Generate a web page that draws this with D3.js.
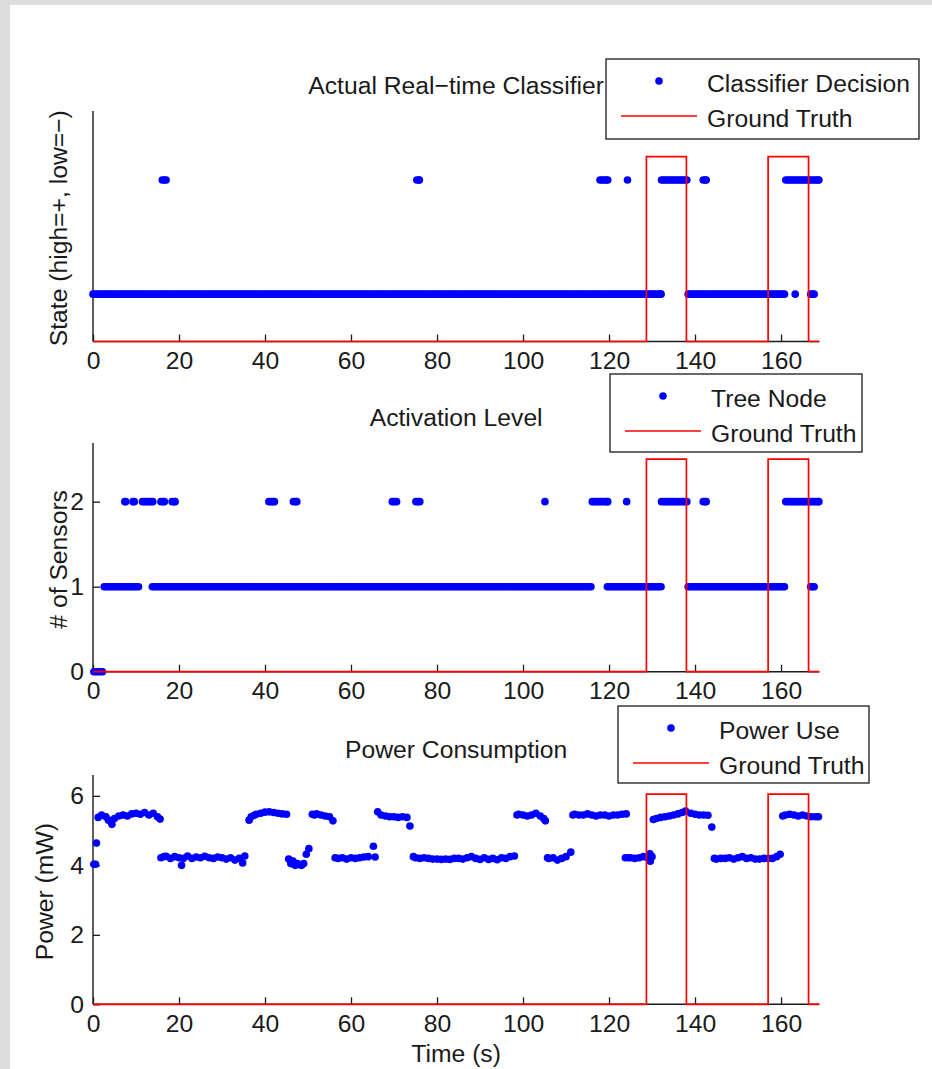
<!DOCTYPE html>
<html>
<head>
<meta charset="utf-8">
<script src="https://cdn.jsdelivr.net/npm/d3@7"></script>
<style>
  body { margin: 0; background: #dcdcdc; }
  svg { display: block; }
  text { font-family: "Liberation Sans", Arial, Helvetica, sans-serif; fill: #1a1a1a; }
</style>
</head>
<body>
<svg id="fig" width="932" height="1069"></svg>
<script>
// ---- time base ----
const timeMax = 168.9;
const timeTicks = [0, 20, 40, 60, 80, 100, 120, 140, 160];
const sampleStep = 0.5; // classifier outputs at 2 Hz

// ---- ground truth events [start, end] (s) ----
const truthEvents = [[128.7, 138.0], [157.0, 166.4]];

// ---- classifier decision: runs of constant state [start, end] (s) ----
const decisionLowRuns  = [[0.0, 132.1], [138.4, 160.8], [163.3, 163.3], [166.9, 167.7]];
const decisionHighRuns = [[16.1, 17.0], [75.3, 75.9], [117.9, 119.7], [124.3, 124.3],
                          [132.2, 138.1], [141.9, 142.6], [161.1, 168.8]];

// ---- tree node activation: runs per number of active sensors ----
const nodeZeroRuns = [[0.2, 2.2]];
const nodeOneRuns  = [[2.6, 10.6], [13.8, 115.8], [119.6, 132.1], [138.4, 160.8], [166.9, 167.7]];
const nodeTwoRuns  = [[7.4, 7.6], [9.3, 9.6], [11.5, 13.9], [15.8, 16.6], [18.4, 19.1],
                      [40.9, 42.2], [46.6, 47.4], [69.6, 70.6], [75.1, 76.0], [105.1, 105.1],
                      [116.1, 119.7], [124.1, 124.1], [132.2, 138.1], [141.9, 142.6], [161.1, 168.8]];

// ---- measured power [time (s), mW] ----
const powerSamples = [
  [0.2, 4.03], [0.6, 4.03], [0.8, 4.64],
  [1.2, 5.38], [2, 5.45], [3, 5.40], [3.6, 5.30], [4.4, 5.18], [5, 5.35], [6, 5.42], [7, 5.45],
  [8, 5.42], [9, 5.48], [10, 5.50], [11, 5.47], [12, 5.52], [13, 5.45], [14, 5.50], [15, 5.40], [15.6, 5.33],
  [15.8, 4.22], [16.5, 4.25], [17, 4.26], [18, 4.20], [19, 4.25], [20, 4.22], [20.6, 4.00], [21, 4.20],
  [22, 4.27], [23, 4.20], [24, 4.24], [25, 4.22], [26, 4.26], [27, 4.22], [28, 4.20], [29, 4.24],
  [30, 4.22], [31, 4.18], [32, 4.22], [33, 4.15], [34, 4.20], [34.8, 4.07], [35.3, 4.27],
  [36.3, 5.30], [36.8, 5.40], [37.5, 5.44], [38, 5.47], [39, 5.50], [40, 5.53], [41, 5.54], [42, 5.52],
  [43, 5.50], [44, 5.48], [45, 5.47],
  [45.5, 4.18], [46, 4.05], [46.5, 4.12], [47, 4.00], [47.5, 4.05], [48, 4.02], [48.5, 4.00], [49, 4.05],
  [49.6, 4.32], [50.2, 4.48],
  [51, 5.47], [51.5, 5.45], [52, 5.48], [53, 5.45], [54, 5.42], [55, 5.40], [55.8, 5.28],
  [56.3, 4.22], [57, 4.20], [58, 4.22], [59, 4.18], [60, 4.22], [61, 4.20], [62, 4.22], [63, 4.24],
  [64, 4.25], [65.2, 4.55], [65.6, 4.24],
  [66.2, 5.54], [67, 5.45], [68, 5.42], [69, 5.40], [70, 5.40], [71, 5.38], [72, 5.40], [73, 5.38], [73.7, 5.13],
  [74.5, 4.25], [75, 4.22], [76, 4.20], [77, 4.22], [78, 4.20], [79, 4.18], [80, 4.18], [81, 4.17],
  [82, 4.18], [83, 4.17], [84, 4.20], [85, 4.20], [86, 4.18], [87, 4.22], [88, 4.25], [89, 4.20],
  [90, 4.17], [91, 4.22], [92, 4.17], [93, 4.20], [94, 4.16], [95, 4.22], [96, 4.20], [97, 4.25], [98, 4.27],
  [98.6, 5.45], [99, 5.47], [100, 5.45], [101, 5.42], [102, 5.45], [103, 5.50], [104, 5.42], [104.8, 5.35], [105.2, 5.28],
  [105.7, 4.22], [106, 4.20], [107, 4.22], [108, 4.15], [109, 4.20], [110, 4.25], [111.1, 4.38],
  [111.6, 5.45], [112, 5.47], [113, 5.45], [114, 5.45], [115, 5.48], [116, 5.45], [117, 5.42], [118, 5.45],
  [119, 5.45], [120, 5.42], [121, 5.45], [122, 5.45], [123, 5.47], [124, 5.48],
  [123.8, 4.22], [124.5, 4.22], [125, 4.22], [126, 4.20], [127, 4.22], [128, 4.25], [129, 4.22],
  [129.5, 4.33], [129.6, 4.12], [130, 4.25],
  [130.3, 5.32], [131, 5.35], [132, 5.38], [133, 5.40], [134, 5.42], [135, 5.45], [136, 5.48], [137, 5.52],
  [137.8, 5.56], [139, 5.50], [140, 5.47], [141, 5.45], [142, 5.45], [143, 5.44], [143.9, 5.10],
  [144.5, 4.20], [145, 4.18], [146, 4.20], [147, 4.20], [148, 4.22], [149, 4.18], [150, 4.22], [151, 4.25],
  [152, 4.20], [153, 4.22], [154, 4.18], [155, 4.18], [156, 4.20], [157, 4.20], [158, 4.20], [159, 4.25], [159.8, 4.32],
  [160.4, 5.42], [161, 5.45], [162, 5.47], [163, 5.45], [164, 5.42], [165, 5.45], [166, 5.42], [167, 5.40], [168, 5.40], [168.7, 5.40]
];

// ---- axis labels and legend text ----
const panelTitles = ["Actual Real\u2212time Classifier", "Activation Level", "Power Consumption"];
const yLabels = ["State (high=+, low=\u2212)", "# of Sensors", "Power (mW)"];
const legendNames = ["Classifier Decision", "Tree Node", "Power Use"];
const truthName = "Ground Truth";
const xLabel = "Time (s)";

// ---------------------------------------------------------------
const svg = d3.select("#fig");
svg.append("rect").attr("width", 932).attr("height", 1069).attr("fill", "#dcdcdc");
svg.append("rect").attr("x", 10).attr("y", 5).attr("width", 922).attr("height", 1064).attr("fill", "#ffffff");

const x = d3.scaleLinear().domain([0, timeMax]).range([93, 819.3]);
const BLUE = "#0000ff", RED = "#ff0000", INK = "#1a1a1a";
const FONT = 24.7;
const intFmt = d3.format("d");

// expand state runs into decision samples
function runsToPoints(runs, level) {
  const pts = [];
  runs.forEach(([a, b]) => {
    d3.range(a, b + 1e-6, sampleStep).forEach(t => pts.push([t, level]));
    if (pts.length && pts[pts.length - 1][0] < b - 1e-6) pts.push([b, level]);
  });
  return pts;
}

const panels = [
  { top: 111, bottom: 341.5, domain: [-1.83, 2.21], yTicks: [], truthHigh: 1.41,
    points: runsToPoints(decisionLowRuns, -1).concat(runsToPoints(decisionHighRuns, 1)),
    labelX: 67, legend: { x: 606, y: 59, w: 313, h: 80 } },
  { top: 443, bottom: 671.7, domain: [0, 2.69], yTicks: [0, 1, 2], truthHigh: 2.5,
    points: runsToPoints(nodeZeroRuns, 0).concat(runsToPoints(nodeOneRuns, 1), runsToPoints(nodeTwoRuns, 2)),
    labelX: 67, legend: { x: 610, y: 374, w: 252, h: 78 } },
  { top: 775, bottom: 1004.3, domain: [0, 6.6], yTicks: [0, 2, 4, 6], truthHigh: 6.05,
    points: powerSamples,
    labelX: 53, legend: { x: 618, y: 706, w: 251, h: 77 } }
];

panels.forEach((p, i) => {
  const y = d3.scaleLinear().domain(p.domain).range([p.bottom, p.top]);
  const g = svg.append("g");
  const yLow = p.domain[0];

  // bottom axis line (shows where the ground truth is high)
  g.append("line").attr("x1", x(0)).attr("x2", x(timeMax))
    .attr("y1", p.bottom).attr("y2", p.bottom).attr("stroke", INK).attr("stroke-width", 1.4);
  // left axis line
  g.append("line").attr("x1", x(0)).attr("x2", x(0))
    .attr("y1", p.top).attr("y2", p.bottom).attr("stroke", INK).attr("stroke-width", 1.4);

  // x axis ticks (inward)
  const xa = g.append("g").attr("transform", `translate(0,${p.bottom})`)
    .call(d3.axisBottom(x).tickValues(timeTicks).tickFormat(intFmt)
      .tickSizeInner(-7).tickSizeOuter(0).tickPadding(10));
  xa.select(".domain").remove();
  xa.selectAll(".tick line").attr("stroke", INK).attr("stroke-width", 1.3);
  xa.selectAll(".tick text").attr("font-size", FONT).attr("fill", INK)
    .attr("font-family", '"Liberation Sans", Arial, sans-serif');

  // y axis ticks (inward)
  if (p.yTicks.length) {
    const ya = g.append("g").attr("transform", `translate(${x(0)},0)`)
      .call(d3.axisLeft(y).tickValues(p.yTicks).tickFormat(intFmt)
        .tickSizeInner(-7).tickSizeOuter(0).tickPadding(9));
    ya.select(".domain").remove();
    ya.selectAll(".tick line").attr("stroke", INK).attr("stroke-width", 1.3);
    ya.selectAll(".tick text").attr("font-size", FONT).attr("fill", INK)
      .attr("font-family", '"Liberation Sans", Arial, sans-serif');
  }

  // data points
  g.append("g").selectAll("circle").data(p.points).join("circle")
    .attr("cx", d => x(d[0])).attr("cy", d => y(d[1])).attr("r", 3.8).attr("fill", BLUE);

  // ground truth trace
  const truth = [[0, yLow]];
  truthEvents.forEach(([a, b]) => {
    truth.push([a, yLow], [a, p.truthHigh], [b, p.truthHigh], [b, yLow]);
  });
  truth.push([timeMax, yLow]);
  g.append("path").datum(truth)
    .attr("d", d3.line().x(d => x(d[0])).y(d => y(d[1])))
    .attr("fill", "none").attr("stroke", RED).attr("stroke-width", 1.7);

  // title
  g.append("text").attr("x", (x(0) + x(timeMax)) / 2).attr("y", p.top - 17)
    .attr("text-anchor", "middle").attr("font-size", FONT).text(panelTitles[i]);

  // y label
  g.append("text")
    .attr("transform", `translate(${p.labelX},${(p.top + p.bottom) / 2 + 2}) rotate(-90)`)
    .attr("text-anchor", "middle").attr("font-size", FONT).text(yLabels[i]);

  // legend
  const L = p.legend;
  const lg = g.append("g").attr("transform", `translate(${L.x},${L.y})`);
  lg.append("rect").attr("width", L.w).attr("height", L.h)
    .attr("fill", "#ffffff").attr("stroke", INK).attr("stroke-width", 1.3);
  lg.append("circle").attr("cx", 53).attr("cy", 22).attr("r", 3.8).attr("fill", BLUE);
  lg.append("line").attr("x1", 15).attr("x2", 91).attr("y1", 57).attr("y2", 57)
    .attr("stroke", RED).attr("stroke-width", 1.7);
  lg.append("text").attr("x", 101).attr("y", 32.5).attr("font-size", FONT).text(legendNames[i]);
  lg.append("text").attr("x", 101).attr("y", 67.5).attr("font-size", FONT).text(truthName);
});

// shared x label
svg.append("text").attr("x", (x(0) + x(timeMax)) / 2).attr("y", 1062)
  .attr("text-anchor", "middle").attr("font-size", FONT).text(xLabel);
</script>
</body>
</html>
